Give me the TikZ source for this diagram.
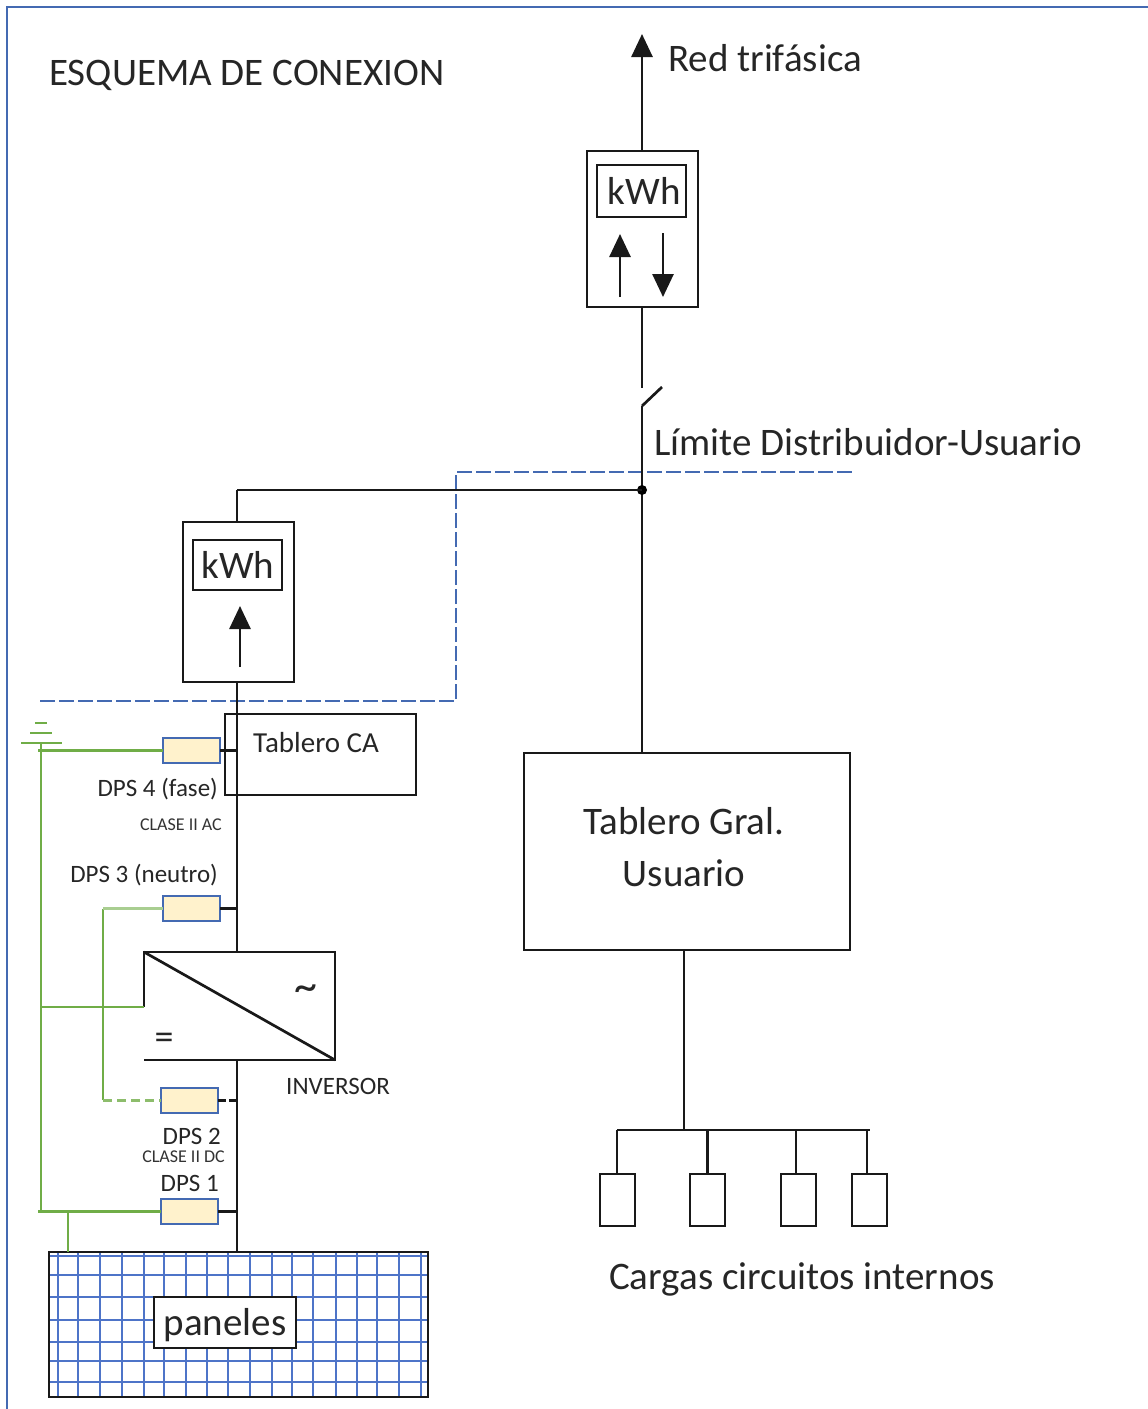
\documentclass[tikz,border=0pt]{standalone}
\usepackage{fontspec}
\setmainfont{Carlito}
\usetikzlibrary{arrows.meta}
\definecolor{frameblue}{RGB}{68,106,178}
\definecolor{gridblue}{RGB}{78,116,200}
\definecolor{earthgreen}{RGB}{112,173,71}
\definecolor{dpsfill}{RGB}{255,242,204}
\tikzset{
	wire/.style={line width=2.7pt, color=black!90},
	earth/.style={line width=2.6pt, color=earthgreen},
	limit/.style={line width=1.9pt, color=frameblue, dash pattern=on 15pt off 4pt},
	bigarrow/.style={wire, -{Triangle[width=21pt,length=23pt]}, shorten >=-1pt},
	boxed/.style={draw=black!90, line width=2.7pt, fill=white, inner sep=0pt, outer sep=0pt, anchor=north west},
	dpsbox/.style={draw=frameblue, line width=2.2pt, fill=dpsfill, inner sep=0pt, outer sep=0pt, anchor=north west, minimum width=57pt, minimum height=25pt},
	loadbox/.style={boxed, minimum width=35pt, minimum height=52pt},
	caption/.style={inner sep=0pt, text=black!85, font=\fontsize{39}{39}\selectfont},
	dpslabel/.style={inner sep=0pt, text=black!85, font=\fontsize{25}{25}\selectfont},
	small/.style={inner sep=0pt, text=black!80, font=\fontsize{18}{18}\selectfont}
}
\begin{document}
\begin{tikzpicture}[x=1pt,y=-1pt]
	\useasboundingbox (0,0) rectangle (1148,1409);
	%%%%% frame %%%%%
	\draw[line width=2.6pt, color=frameblue] (7,1409) -- (7,7) -- (1148,7);
	\node[caption, anchor=west] (titulo) at (49,75) {ESQUEMA DE CONEXION};

	%%%%% red side %%%%%
	\node[boxed, minimum width=111pt, minimum height=156pt] (medidorA) at (587,151) {};
	\node[boxed, minimum width=89pt, minimum height=52pt] (kwhA) at (597,165) {};
	\node[caption] (kwhAtxt) at (644,191) {kWh};
	\node[caption, anchor=west] (red) at (668,58) {Red trifásica};
	\node[caption, anchor=west] (limite) at (654,442) {Límite Distribuidor-Usuario};
	\coordinate (redtop) at (642,35);
	\coordinate (swa) at (642,388);
	\coordinate (swb) at (642,406);
	\coordinate (swc) at (662,387);
	\coordinate (union) at (642,490);
	\draw[bigarrow] (medidorA.north -| redtop) -- (redtop);
	\draw[wire] (medidorA.south -| redtop) -- (swa);
	\draw[wire] (swb) -- (swc);
	\draw[bigarrow] (620,297) -- (620,235);
	\draw[bigarrow] (663,233) -- (663,296);

	%%%%% limite %%%%%
	\draw[limit] (40,701) -- (456,701) -- (456,472) -- (853,472);

	%%%%% usuario %%%%%
	\node[boxed, minimum width=326pt, minimum height=197pt] (general) at (524,753) {};
	\node[caption] (generalA) at (684,821) {Tablero Gral.};
	\node[caption] (generalB) at (684,873) {Usuario};
	\draw[wire] (swb) -- (general.north -| swb);
	\fill[black] (union) circle (5pt);

	\coordinate (bus) at (684,1130);
	\coordinate (busL) at (617,1130);
	\coordinate (busR) at (870,1130);
	\draw[wire] (general.south -| bus) -- (bus);
	\draw[wire] (busL) -- (busR);
	\node[loadbox] (cargaA) at (600,1174) {};
	\node[loadbox] (cargaB) at (690,1174) {};
	\node[loadbox] (cargaC) at (781,1174) {};
	\node[loadbox] (cargaD) at (852,1174) {};
	\draw[wire] (busL) -- (busL |- cargaA.north);
	\draw[wire] (cargaB.north |- bus) -- (cargaB.north);
	\draw[wire] (796,1130) -- (796,1174);
	\draw[wire] (867,1130) -- (867,1174);
	\node[caption, anchor=west] (cargas) at (609,1279) {Cargas circuitos internos};

	%%%%% paneles %%%%%
	\node[boxed, minimum width=379pt, minimum height=145pt] (paneles) at (49,1252) {};
	\foreach \gx in {58,78,100,122,144,164,186,207,228,250,272,292,313,336,357,377,399,421}
		\draw[line width=1.9pt, color=gridblue] (\gx,1253) -- (\gx,1396);
	\foreach \gy in {1256,1275,1297,1320,1342,1361,1382}
		\draw[line width=1.9pt, color=gridblue] (50,\gy) -- (427,\gy);
	\draw[wire] (49,1252) rectangle (428,1397);
	\node[boxed, minimum width=142pt, minimum height=51pt] (etiqueta) at (154,1297) {};
	\node[caption] (etiquetatxt) at (225,1325) {paneles};

	%%%%% inversor side %%%%%
	\coordinate (invNW) at (144,952);
	\coordinate (invNE) at (335,952);
	\coordinate (invSE) at (335,1060);
	\coordinate (invSW) at (144,1060);
	\coordinate (invW) at (144,1007);
	\coordinate (codo) at (237,490);
	\draw[wire] (codo) -- (union);
	\node[boxed, minimum width=111pt, minimum height=160pt] (medidorB) at (183,522) {};
	\node[boxed, minimum width=89pt, minimum height=50pt] (kwhB) at (193,540) {};
	\node[caption] (kwhBtxt) at (238,565) {kWh};
	\draw[wire] (codo) -- (codo |- medidorB.north);
	\draw[bigarrow] (240,667) -- (240,607);
	\node[boxed, fill=none, minimum width=191pt, minimum height=81pt] (tablero) at (225,714) {};
	\node[dpslabel, anchor=west, font=\fontsize{29}{29}\selectfont] (tablerotxt) at (253,743) {Tablero CA};
	\draw[wire] (codo |- medidorB.south) -- (codo |- invNW);
	\draw[wire] (invW) -- (invNW) -- (invNE) -- (invSE) -- (invSW);
	\draw[wire] (invNW) -- (invSE);
	\draw[wire] (codo |- invSW) -- (codo |- paneles.north);
	\node[inner sep=0pt, text=black!85, font=\fontsize{46}{46}\selectfont] (alterna) at (306,993) {\textasciitilde};
	\node[inner sep=0pt, text=black!85, font=\fontsize{38}{38}\selectfont] (continua) at (164,1041) {=};
	\node[dpslabel, anchor=west] (inversor) at (286,1086) {INVERSOR};

	\node[dpsbox] (dpsD) at (163,738) {};
	\node[dpsbox] (dpsC) at (163,896) {};
	\node[dpsbox] (dpsB) at (161,1088) {};
	\node[dpsbox] (dpsA) at (161,1199) {};
	\node[dpslabel, anchor=east] (dpsDtxt) at (218,789) {DPS 4 (fase)};
	\node[small, anchor=east] (claseac) at (222,825) {CLASE II AC};
	\node[dpslabel, anchor=east] (dpsCtxt) at (218,875) {DPS 3 (neutro)};
	\node[dpslabel, anchor=east] (dpsBtxt) at (221,1136) {DPS 2};
	\node[small, anchor=east] (clasedc) at (225,1157) {CLASE II DC};
	\node[dpslabel, anchor=east] (dpsAtxt) at (219,1183) {DPS 1};
	\draw[wire] (dpsD.east) -- (dpsD.east -| codo);
	\draw[wire] (dpsC.east) -- (dpsC.east -| codo);
	\draw[wire, dash pattern=on 8pt off 3pt] (dpsB.east) -- (dpsB.east -| codo);
	\draw[wire] (dpsA.east) -- (dpsA.east -| codo);

	%%%%% tierra %%%%%
	\draw[earth] (35,723) -- (47,723);
	\draw[earth] (30,733) -- (52,733);
	\draw[earth] (21,743) -- (62,743);
	\draw[earth] (41,743) -- (41,1212);
	\draw[earth] (38,0 |- dpsD.west) -- (dpsD.west);
	\draw[earth] (41,1007) -- (invW);
	\draw[earth] (38,0 |- dpsA.west) -- (dpsA.west);
	\draw[earth] (68,0 |- dpsA.west) -- (68,1252);
	\draw[earth] (103,1100) -- (103,0 |- dpsC.west);
	\draw[earth, color=earthgreen!60] (103,0 |- dpsC.west) -- (dpsC.west);
	\draw[earth, color=earthgreen!80, dash pattern=on 9pt off 5pt] (103,0 |- dpsB.west) -- (dpsB.west);
\end{tikzpicture}
\end{document}
